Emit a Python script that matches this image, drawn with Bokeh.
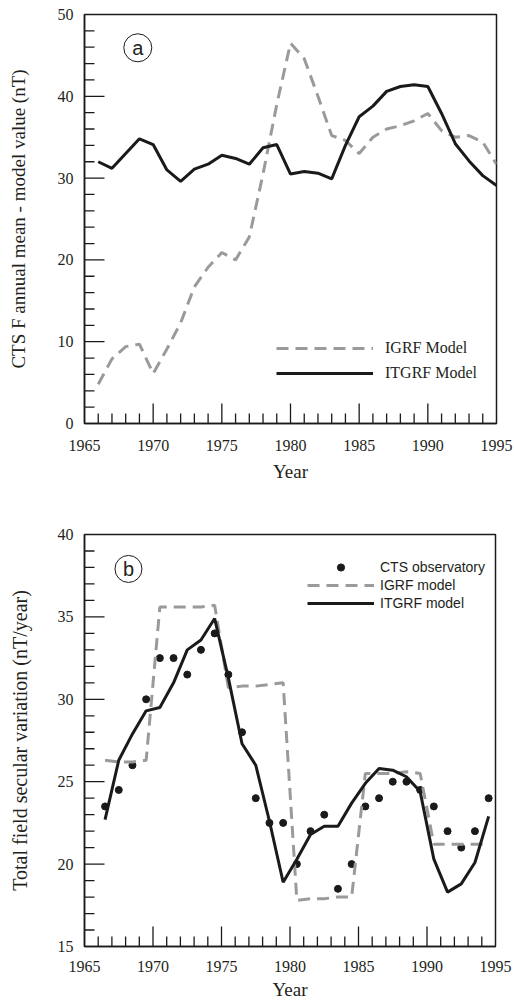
from bokeh.plotting import figure
from bokeh.layouts import column
from bokeh.models import Range1d, SingleIntervalTicker, Legend, LegendItem, Label
from bokeh.embed import file_html
from bokeh.resources import INLINE

# ---------------- data ----------------
years_a = [1966, 1967, 1968, 1969, 1970, 1971, 1972, 1973, 1974, 1975,
           1976, 1977, 1978, 1979, 1980, 1981, 1982, 1983, 1984, 1985,
           1986, 1987, 1988, 1989, 1990, 1991, 1992, 1993, 1994, 1995]
igrf_a = [4.8, 7.9, 9.4, 9.7, 6.1, 9.1, 12.3, 16.7, 19.1, 20.9,
          20.0, 22.8, 30.5, 39.0, 46.5, 44.6, 40.0, 35.2, 34.6, 33.0,
          35.0, 36.0, 36.4, 37.0, 37.9, 35.8, 35.0, 35.2, 34.4, 31.7]
itgrf_a = [32.0, 31.2, 33.0, 34.8, 34.1, 31.0, 29.6, 31.1, 31.7, 32.8,
           32.4, 31.7, 33.7, 34.1, 30.5, 30.8, 30.6, 29.9, 34.0, 37.5,
           38.8, 40.6, 41.2, 41.4, 41.2, 37.9, 34.2, 32.1, 30.3, 29.1]

years_b = [1966.5, 1967.5, 1968.5, 1969.5, 1970.5, 1971.5, 1972.5, 1973.5,
           1974.5, 1975.5, 1976.5, 1977.5, 1978.5, 1979.5, 1980.5, 1981.5,
           1982.5, 1983.5, 1984.5, 1985.5, 1986.5, 1987.5, 1988.5, 1989.5,
           1990.5, 1991.5, 1992.5, 1993.5, 1994.5]
cts_obs = [23.5, 24.5, 26.0, 30.0, 32.5, 32.5, 31.5, 33.0, 34.0, 31.5,
           28.0, 24.0, 22.5, 22.5, 20.0, 22.0, 23.0, 18.5, 20.0, 23.5,
           24.0, 25.0, 25.0, 24.5, 23.5, 22.0, 21.0, 22.0, 24.0]
igrf_b = [26.3, 26.2, 26.2, 26.3, 35.6, 35.6, 35.6, 35.6, 35.7, 30.7,
          30.8, 30.8, 30.9, 31.0, 17.8, 17.9, 17.9, 18.0, 18.0, 25.5,
          25.5, 25.5, 25.6, 25.5, 21.2, 21.2, 21.2, 21.2, 21.2]
itgrf_b = [22.7, 26.3, 27.9, 29.3, 29.5, 31.0, 33.0, 33.6, 34.9, 31.3,
           27.3, 26.0, 22.6, 18.9, 20.3, 21.8, 22.3, 22.3, 23.7, 24.9,
           25.8, 25.7, 25.3, 24.4, 20.3, 18.3, 18.8, 20.1, 22.9]

# tick positions (inward ticks)
xtick_major = [1970, 1975, 1980, 1985, 1990]
xtick_minor = [1966, 1967, 1968, 1969, 1971, 1972, 1973, 1974, 1976, 1977,
               1978, 1979, 1981, 1982, 1983, 1984, 1986, 1987, 1988, 1989,
               1991, 1992, 1993, 1994]
ytick_major_a = [10, 20, 30, 40]
ytick_minor_a = [2, 4, 6, 8, 12, 14, 16, 18, 22, 24, 26, 28, 32, 34, 36, 38,
                 42, 44, 46, 48]
ytick_major_b = [20, 25, 30, 35]
ytick_minor_b = [16, 17, 18, 19, 21, 22, 23, 24, 26, 27, 28, 29, 31, 32, 33,
                 34, 36, 37, 38, 39]

SERIF = "Liberation Serif"
SANS = "Liberation Sans"
INK = "#1a1a1a"
GREY = "#9a9a9a"
TXT = "#231f20"
MAJ_PX, MIN_PX = 20, 10


def style(p, yint):
    p.xaxis.ticker = SingleIntervalTicker(interval=5, num_minor_ticks=0)
    p.yaxis.ticker = SingleIntervalTicker(interval=yint, num_minor_ticks=0)
    for ax in (p.xaxis[0], p.yaxis[0]):
        ax.major_tick_in = 0
        ax.major_tick_out = 0
        ax.minor_tick_in = 0
        ax.minor_tick_out = 0
        ax.axis_line_color = INK
        ax.axis_line_width = 1.5
        ax.major_label_text_font = SERIF
        ax.major_label_text_font_size = "16px"
        ax.major_label_text_color = TXT
        ax.major_label_standoff = 11
        ax.axis_label_text_font = SERIF
        ax.axis_label_text_font_size = "19px"
        ax.axis_label_text_font_style = "normal"
        ax.axis_label_text_color = TXT
    p.xgrid.visible = False
    p.ygrid.visible = False
    p.outline_line_color = INK
    p.outline_line_width = 1.5
    p.background_fill_color = "white"
    p.border_fill_color = "white"


def inward_ticks(p, xr, yr, fw, fh, ymaj, ymin):
    x0, x1 = xr
    y0, y1 = yr
    dy = (y1 - y0) / fh   # data units per pixel (vertical)
    dx = (x1 - x0) / fw   # data units per pixel (horizontal)
    for xs, L in ((xtick_major, MAJ_PX), (xtick_minor, MIN_PX)):
        p.segment(x0=xs, y0=[y0] * len(xs), x1=xs, y1=[y0 + L * dy] * len(xs),
                  line_color=INK, line_width=1.3)
    for ys, L in ((ymaj, MAJ_PX), (ymin, MIN_PX)):
        p.segment(x0=[x0] * len(ys), y0=ys, x1=[x0 + L * dx] * len(ys), y1=ys,
                  line_color=INK, line_width=1.3)


# ---------------- panel (a) ----------------
FW_A, FH_A = 412, 409
p1 = figure(frame_width=FW_A, frame_height=FH_A,
            x_range=Range1d(1965, 1995), y_range=Range1d(0, 50),
            output_backend="svg", toolbar_location=None,
            min_border_left=84, min_border_right=18,
            min_border_top=14, min_border_bottom=85)
style(p1, 10)
p1.xaxis.major_label_standoff = 16
p1.xaxis.axis_label = "Year"
p1.xaxis.axis_label_standoff = 7
p1.yaxis.axis_label = "CTS F annual mean - model value (nT)"
p1.yaxis.axis_label_standoff = 26
inward_ticks(p1, (1965, 1995), (0, 50), FW_A, FH_A, ytick_major_a, ytick_minor_a)

r_igrf_a = p1.line(years_a, igrf_a, line_color=GREY, line_width=3, line_dash="12 7")
r_itgrf_a = p1.line(years_a, itgrf_a, line_color=INK, line_width=3)

leg_a = Legend(items=[LegendItem(label="IGRF Model", renderers=[r_igrf_a]),
                      LegendItem(label="ITGRF Model", renderers=[r_itgrf_a])],
               location=(192, 40), glyph_width=97, glyph_height=20,
               label_height=20, spacing=5, padding=0, margin=0,
               label_standoff=12, label_text_font=SERIF,
               label_text_font_size="16px", label_text_color=TXT,
               border_line_alpha=0, background_fill_alpha=0)
p1.add_layout(leg_a)

p1.scatter([1968.88], [45.93], marker="circle", size=28, fill_alpha=0,
           line_color=INK, line_width=1)
p1.add_layout(Label(x=1968.88, y=45.93, text="a", text_align="center",
                    text_baseline="middle", text_font=SANS,
                    text_font_size="20px", text_color=TXT))

# ---------------- panel (b) ----------------
FW_B, FH_B = 411, 412
p2 = figure(frame_width=FW_B, frame_height=FH_B,
            x_range=Range1d(1965, 1995), y_range=Range1d(15, 40),
            output_backend="svg", toolbar_location=None,
            min_border_left=82, min_border_right=21,
            min_border_top=26, min_border_bottom=58)
style(p2, 5)
p2.xaxis.major_label_standoff = 14
p2.xaxis.axis_label = "Year"
p2.xaxis.axis_label_standoff = 4
p2.yaxis.axis_label = "Total field secular variation (nT/year)"
p2.yaxis.axis_label_standoff = 24
p2.yaxis.axis_label_text_font_size = "20px"
inward_ticks(p2, (1965, 1995), (15, 40), FW_B, FH_B, ytick_major_b, ytick_minor_b)

r_obs = p2.scatter(years_b, cts_obs, marker="circle", size=7,
                   fill_color=INK, line_color=INK)
r_igrf_b = p2.line(years_b, igrf_b, line_color=GREY, line_width=3, line_dash="12 7")
r_itgrf_b = p2.line(years_b, itgrf_b, line_color=INK, line_width=3)

leg_b = Legend(items=[LegendItem(label="CTS observatory", renderers=[r_obs]),
                      LegendItem(label="IGRF model", renderers=[r_igrf_b]),
                      LegendItem(label="ITGRF model", renderers=[r_itgrf_b])],
               location=(223, 334), glyph_width=67, glyph_height=18,
               label_height=18, spacing=0, padding=0, margin=0,
               label_standoff=6, label_text_font=SANS,
               label_text_font_size="14px", label_text_color=TXT,
               border_line_alpha=0, background_fill_alpha=0)
p2.add_layout(leg_b)

p2.scatter([1968.21], [37.91], marker="circle", size=27, fill_alpha=0,
           line_color=INK, line_width=1)
p2.add_layout(Label(x=1968.21, y=37.91, text="b", text_align="center",
                    text_baseline="middle", text_font=SANS,
                    text_font_size="20px", text_color=TXT))

layout = column(p1, p2)
open("out.html", "w").write(file_html(layout, INLINE))
